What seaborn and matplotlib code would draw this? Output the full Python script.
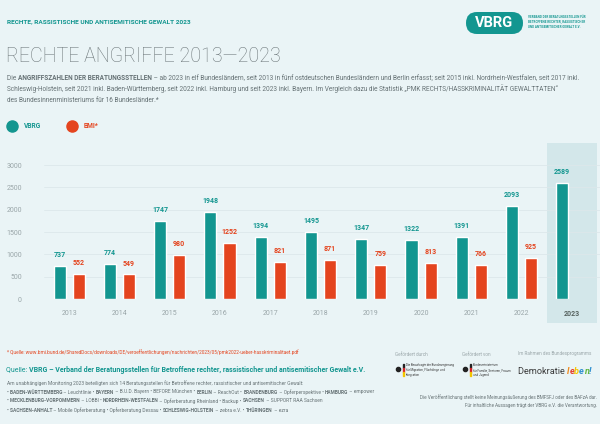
import numpy as np
import pandas as pd
import matplotlib
matplotlib.use("Agg")
import matplotlib.pyplot as plt
import seaborn as sns
from matplotlib.patches import FancyBboxPatch, Rectangle
from matplotlib.lines import Line2D

# --- data -------------------------------------------------------------
years = ['2013', '2014', '2015', '2016', '2017', '2018', '2019', '2020', '2021', '2022', '2023']
vbrg = [737, 774, 1747, 1948, 1394, 1495, 1347, 1322, 1391, 2093, 2589]
bmi = [552, 549, 980, 1252, 821, 871, 759, 813, 766, 925, np.nan]
series = ['VBRG', 'BMI*']
y_ticks = [0, 500, 1000, 1500, 2000, 2500, 3000]

TEAL = '#139690'
RED = '#e4441e'
BG = '#eaf4f6'
GREY = '#667275'
LIGHT = '#9aa6a9'

W, H = 600, 424

sns.set_theme(style='white')
plt.rcParams['font.family'] = ['Roboto', 'DejaVu Sans']

fig = plt.figure(figsize=(W / 100, H / 100), dpi=100, facecolor=BG)
renderer = fig.canvas.get_renderer()


def fx(x):
    return x / W


def fy(y):
    return 1 - y / H


def rich(x, y, parts, size, va='center'):
    """draw text pieces one after another on a line (pixel coords)"""
    for text, weight, color in parts:
        t = fig.text(fx(x), fy(y), text, fontsize=size, fontweight=weight,
                     color=color, ha='left', va=va)
        x += t.get_window_extent(renderer=renderer).width
    return x


# --- header -----------------------------------------------------------
fig.text(fx(7), fy(22), 'RECHTE, RASSISTISCHE UND ANTISEMITISCHE GEWALT 2023',
         fontsize=4.65, fontweight='bold', color=TEAL, va='center')

pill = FancyBboxPatch((4.66, (H - 34) / 100), 0.57, 0.22,
                      boxstyle='round,pad=0,rounding_size=0.11',
                      transform=fig.dpi_scale_trans, facecolor=TEAL,
                      edgecolor='none')
fig.add_artist(pill)
fig.text(fx(494), fy(23), 'VBRG', fontsize=10.5, fontweight='bold',
         color='white', ha='center', va='center')
fig.text(fx(528), fy(22),
         'VERBAND DER BERATUNGSSTELLEN FÜR\nBETROFFENE RECHTER, RASSISTISCHER\nUND ANTISEMITISCHER GEWALT E.V.',
         fontsize=2.2, fontweight='bold', color=TEAL, va='center',
         linespacing=1.2)

fig.text(fx(6), fy(56), 'RECHTE ANGRIFFE 2013—2023', fontsize=14.1,
         fontweight='light', color='#6d777a', va='center')

desc = 4.7
rich(7, 78, [('Die ', 'normal', GREY),
             ('ANGRIFFSZAHLEN DER BERATUNGSSTELLEN', 'bold', GREY),
             (' – ab 2023 in elf Bundesländern, seit 2013 in fünf ostdeutschen Bundesländern und Berlin erfasst; '
              'seit 2015 inkl. Nordrhein-Westfalen, seit 2017 inkl.', 'normal', GREY)], desc)
rich(7, 89, [('Schleswig-Holstein, seit 2021 inkl. Baden-Württemberg, seit 2022 inkl. Hamburg und seit 2023 inkl. '
              'Bayern. Im Vergleich dazu die Statistik „PMK RECHTS/HASSKRIMINALITÄT GEWALTTATEN“',
              'normal', GREY)], desc)
rich(7, 100, [('des Bundesinnenministeriums für 16 Bundesländer.*', 'normal', GREY)], desc)

# legend
for cx, label, col in [(12, series[0], TEAL), (72, series[1], RED)]:
    fig.add_artist(Line2D([fx(cx)], [fy(126)], marker='o', markersize=8,
                          color=col, linestyle='none', transform=fig.transFigure))
    fig.text(fx(cx + 12), fy(126), label, fontsize=4.8, fontweight='bold',
             color=col, va='center')

# --- chart ------------------------------------------------------------
df = pd.DataFrame({
    'year': years * 2,
    'source': [series[0]] * len(years) + [series[1]] * len(years),
    'value': vbrg + bmi,
})

ax = fig.add_axes([fx(44), fy(299), fx(600 - 44), (299 - 142.7) / H])
ax.set_facecolor('none')
sns.barplot(data=df, x='year', y='value', hue='source', hue_order=series,
            palette=[TEAL, RED], width=0.76, saturation=1, legend=False, ax=ax)

for cont, col in zip(ax.containers, [TEAL, RED]):
    for p in cont:
        c = p.get_x() + p.get_width() / 2
        p.set_width(0.24)
        p.set_x(c - 0.12)
    labels = ['' if not np.isfinite(v) else f'{v:.0f}' for v in cont.datavalues]
    ax.bar_label(cont, labels=labels, padding=5, fontsize=5, fontweight='bold',
                 color=col)

ax.axvspan(9.5, 10.5, ymin=-0.154, ymax=1, facecolor='#d3e7ea',
           edgecolor='none', zorder=0, clip_on=False)

ax.set_xlim(-0.5, 10.56)
ax.set_ylim(0, 3500)
ax.set_yticks(y_ticks)
ax.set_yticklabels([str(v) for v in y_ticks])
ax.yaxis.grid(True, color='#dce8eb', linewidth=0.6)
ax.set_axisbelow(True)
sns.despine(ax=ax, left=True, bottom=True)
ax.tick_params(axis='y', length=0, pad=16, labelsize=5, labelcolor=LIGHT)
ax.tick_params(axis='x', length=0, pad=8, labelsize=5, labelcolor=LIGHT)
ax.set_xlabel('')
ax.set_ylabel('')
last = ax.get_xticklabels()[-1]
last.set_fontweight('bold')
last.set_color('#56625f')

# --- footer -----------------------------------------------------------
fig.text(fx(7), fy(352),
         '* Quelle: www.bmi.bund.de/SharedDocs/downloads/DE/veroeffentlichungen/nachrichten/2023/05/pmk2022-ueber-hasskriminalitaet.pdf',
         fontsize=3.45, color=RED, va='center')
rich(6, 370, [('Quelle: ', 'normal', TEAL),
              ('VBRG – Verband der Beratungsstellen für Betroffene rechter, rassistischer und antisemitischer Gewalt e.V.',
               'bold', TEAL)], 5.05)
fs = 3.5
fig.text(fx(7), fy(383),
         'Am unabhängigen Monitoring 2023 beteiligten sich 14 Beratungsstellen für Betroffene rechter, rassistischer und antisemitischer Gewalt:',
         fontsize=fs, color=GREY, va='center')
rich(7, 392, [('• BADEN-WÜRTTEMBERG', 'bold', GREY), (' – Leuchtlinie • ', 'normal', GREY),
              ('BAYERN', 'bold', GREY), (' – B.U.D. Bayern • BEFORE München • ', 'normal', GREY),
              ('BERLIN', 'bold', GREY), (' – ReachOut • ', 'normal', GREY),
              ('BRANDENBURG', 'bold', GREY), (' – Opferperspektive • ', 'normal', GREY),
              ('HAMBURG', 'bold', GREY), (' – empower', 'normal', GREY)], fs)
rich(7, 401, [('• MECKLENBURG-VORPOMMERN', 'bold', GREY), (' – LOBBI • ', 'normal', GREY),
              ('NORDRHEIN-WESTFALEN', 'bold', GREY), (' – Opferberatung Rheinland • Backup • ', 'normal', GREY),
              ('SACHSEN', 'bold', GREY), (' – SUPPORT RAA Sachsen', 'normal', GREY)], fs)
rich(7, 410, [('• SACHSEN-ANHALT', 'bold', GREY), (' – Mobile Opferberatung • Opferberatung Dessau • ', 'normal', GREY),
              ('SCHLESWIG-HOLSTEIN', 'bold', GREY), (' – zebra e.V. • ', 'normal', GREY),
              ('THÜRINGEN', 'bold', GREY), (' – ezra', 'normal', GREY)], fs)

fig.text(fx(395), fy(354), 'Gefördert durch', fontsize=3.3, color=LIGHT, va='center')
fig.text(fx(462), fy(354), 'Gefördert von', fontsize=3.3, color=LIGHT, va='center')
fig.text(fx(518), fy(354), 'Im Rahmen des Bundesprogramms', fontsize=3.3, color=LIGHT, va='center')

# small federal logos
for lx, txt in [(398, 'Die Beauftragte der Bundesregierung\nfür Migration, Flüchtlinge und\nIntegration'),
                (465, 'Bundesministerium\nfür Familie, Senioren, Frauen\nund Jugend')]:
    fig.add_artist(Line2D([fx(lx)], [fy(369)], marker='o', markersize=3,
                          color='#222222', linestyle='none', transform=fig.transFigure))
    for k, c in enumerate(['#222222', '#d7262b', '#f2c500']):
        fig.add_artist(Rectangle((fx(lx + 5), fy(364 + (k + 1) * 4)), 0.7 / W, 4 / H,
                                 transform=fig.transFigure, color=c))
    fig.text(fx(lx + 8), fy(370), txt, fontsize=2.1, color='#333333', va='center',
             linespacing=1.2)

x = rich(518, 371, [('Demokratie ', 'normal', '#3b3b3b')], 6.6)
for ch, c in zip('leben!', ['#f08a1c', '#e53b2b', '#f6c500', '#2f8fd0', '#5fb63b', '#2f8fd0']):
    t = fig.text(fx(x), fy(371), ch, fontsize=6.6, fontweight='bold', fontstyle='italic',
                 color=c, ha='left', va='center')
    x += t.get_window_extent(renderer=renderer).width

fig.text(fx(597), fy(397),
         'Die Veröffentlichung stellt keine Meinungsäußerung des BMFSFJ oder des BAFzA dar.',
         fontsize=3.3, color=GREY, ha='right', va='center')
fig.text(fx(597), fy(406),
         'Für inhaltliche Aussagen trägt der VBRG e.V. die Verantwortung.',
         fontsize=3.3, color=GREY, ha='right', va='center')

fig.savefig('out.png', dpi=100, facecolor=BG)
